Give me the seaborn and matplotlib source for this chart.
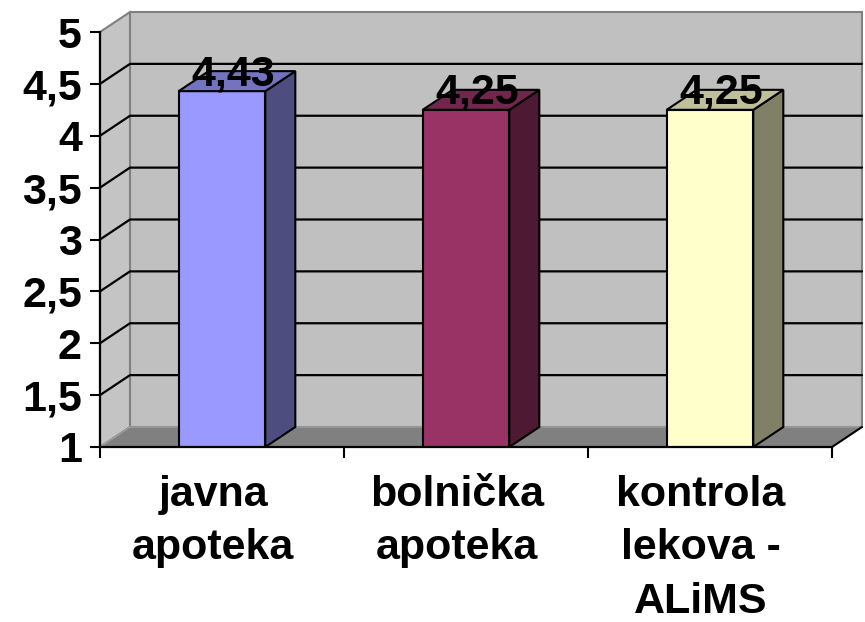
import matplotlib
matplotlib.use("Agg")
import numpy as np
import pandas as pd
import seaborn as sns
import matplotlib.pyplot as plt
from matplotlib.patches import Polygon
from matplotlib.lines import Line2D
from matplotlib.transforms import ScaledTranslation

categories = ["javna\napoteka", "bolnička\napoteka", "kontrola\nlekova -\nALiMS"]
values = [4.43, 4.25, 4.25]
value_labels = ["4,43", "4,25", "4,25"]
yticks = [1, 1.5, 2, 2.5, 3, 3.5, 4, 4.5, 5]
ytick_labels = ["1", "1,5", "2", "2,5", "3", "3,5", "4", "4,5", "5"]
front_colors = ["#9999FF", "#993366", "#FFFFCC"]
side_colors = ["#4D4D80", "#4D1933", "#808066"]
top_colors = ["#7373BF", "#73264D", "#BFBF99"]

W, H = 865, 622
sns.set_theme(style="white")
plt.rcParams['font.family'] = ['Liberation Sans', 'DejaVu Sans']
plt.rcParams['font.weight'] = 'bold'
plt.rcParams['text.color'] = 'black'
plt.rcParams['xtick.color'] = 'black'
plt.rcParams['ytick.color'] = 'black'

fig = plt.figure(figsize=(W / 100, H / 100), dpi=100)
fig.patch.set_facecolor("white")
left_px, right_px, top_px, bot_px = 100, 832, 32, 447
ax = fig.add_axes([left_px / W, (H - bot_px) / H, (right_px - left_px) / W, (bot_px - top_px) / H])
ax.patch.set_visible(False)

df = pd.DataFrame({"cat": categories, "val": values})
sns.barplot(data=df, x="cat", y="val", hue="cat", palette=front_colors, width=0.355,
            edgecolor="black", linewidth=1.5, legend=False, ax=ax, zorder=3,
            saturation=1)
bars = list(ax.patches)

ymin, ymax = 1, 5
ax.set_xlim(-0.5, 2.5)
ax.set_ylim(ymin, ymax)
ax.set_xlabel("")
ax.set_ylabel("")

# depth offset in data units (30 px right, 20 px up)
ddx = 30 / ((right_px - left_px) / 3)
ddy = 20 / ((bot_px - top_px) / 4)
x0, x1 = -0.5, 2.5

# back wall
ax.add_patch(Polygon([(x0 + ddx, ymin + ddy), (x1 + ddx, ymin + ddy), (x1 + ddx, ymax + ddy), (x0 + ddx, ymax + ddy)],
                     closed=True, fc="#C0C0C0", ec="#808080", lw=1.5, clip_on=False, zorder=0.1))
# side wall
ax.add_patch(Polygon([(x0, ymin), (x0 + ddx, ymin + ddy), (x0 + ddx, ymax + ddy), (x0, ymax)],
                     closed=True, fc="#C4C4C4", ec="#808080", lw=1.5, clip_on=False, zorder=0.15))
# gridlines
for v in yticks[1:-1]:
    ax.add_line(Line2D([x0, x0 + ddx, x1 + ddx], [v, v + ddy, v + ddy], color="black", lw=1.6,
                       clip_on=False, zorder=0.2))
# floor
ax.add_patch(Polygon([(x0, ymin), (x1, ymin), (x1 + ddx, ymin + ddy), (x0 + ddx, ymin + ddy)],
                     closed=True, fc="#808080", ec="none", clip_on=False, zorder=0.3))
ax.add_line(Line2D([x0 + ddx, x1 + ddx], [ymin + ddy, ymin + ddy], color="#9A9A9A", lw=1.2, clip_on=False, zorder=0.31))
ax.add_line(Line2D([x0, x0 + ddx], [ymin, ymin + ddy], color="#A0A0A0", lw=1.0, clip_on=False, zorder=0.31))
ax.add_line(Line2D([x1, x1 + ddx], [ymin, ymin + ddy], color="black", lw=1.5, clip_on=False, zorder=0.32))

# 3D bar sides and tops
for i, p in enumerate(bars):
    bx0 = p.get_x()
    bx1 = bx0 + p.get_width()
    v = values[i]
    ax.add_patch(Polygon([(bx1, ymin), (bx1 + ddx, ymin + ddy), (bx1 + ddx, v + ddy), (bx1, v)],
                         closed=True, fc=side_colors[i], ec="black", lw=1.5, clip_on=False, zorder=3))
    ax.add_patch(Polygon([(bx0, v), (bx1, v), (bx1 + ddx, v + ddy), (bx0 + ddx, v + ddy)],
                         closed=True, fc=top_colors[i], ec="black", lw=1.5, clip_on=False, zorder=3))
    ax.annotate(value_labels[i], xy=((bx0 + bx1) / 2, v), xytext=(11, 6), textcoords="offset pixels",
                ha="center", va="baseline", fontsize=31, fontweight="bold", color="black", zorder=5)

# axes styling
for s in ["top", "right"]:
    ax.spines[s].set_visible(False)
for s in ["left", "bottom"]:
    ax.spines[s].set_color("black")
    ax.spines[s].set_linewidth(1.6)
    ax.spines[s].set_zorder(4)

ax.set_yticks(yticks, ytick_labels)
ax.tick_params(axis="y", which="major", left=True, length=7.5, width=1.5, color="black",
               labelsize=31, pad=5.5, labelcolor="black")
ax.set_xticks([0, 1, 2], categories)
ax.set_xticks([-0.5, 0.5, 1.5, 2.5], minor=True)
ax.tick_params(axis="x", which="major", bottom=True, length=0, labelsize=31, pad=20.5, labelcolor="black")
ax.tick_params(axis="x", which="minor", bottom=True, length=8, width=1.5, color="black")
for lab in ax.get_yticklabels():
    lab.set_fontweight("bold")
for lab in ax.get_xticklabels():
    lab.set_fontweight("bold")
    lab.set_linespacing(1.42)
    lab.set_transform(lab.get_transform() + ScaledTranslation(-0.09, 0, fig.dpi_scale_trans))

fig.savefig("out.png", dpi=100, facecolor="white")
